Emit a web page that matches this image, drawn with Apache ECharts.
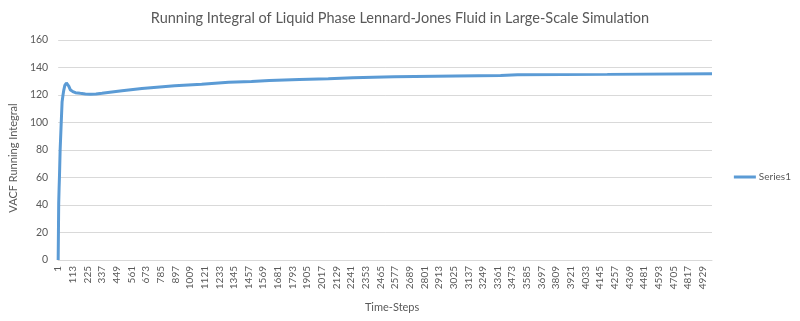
<!DOCTYPE html>
<html><head><meta charset="utf-8">
<script src="https://cdn.jsdelivr.net/npm/echarts@6/dist/echarts.min.js"></script>
<style>html,body{margin:0;padding:0;background:#fff}#c{width:800px;height:321px}</style>
</head><body><div id="c"></div>
<script>
const chartTitle = 'Running Integral of Liquid Phase Lennard-Jones Fluid in Large-Scale Simulation';
const xAxisTitle = 'Time-Steps';
const yAxisTitle = 'VACF Running Integral';
const seriesName = 'Series1';
const timeSteps = [1, 3, 5, 8, 11, 16, 24, 31, 38, 44, 52, 58, 64, 72, 82, 95, 113, 133, 170, 209, 247, 290, 336, 412, 489, 641, 892, 1098, 1304, 1479, 1616, 1845, 2066, 2256, 2569, 3041, 3384, 3513, 4200, 5000];
const integralValues = [0, 20, 41, 52, 61, 80, 99, 115, 120, 123.6, 127, 128.3, 128.7, 128.3, 126.5, 123.6, 122.5, 121.7, 121.2, 120.8, 120.5, 120.8, 121.3, 122.2, 123.1, 124.8, 126.8, 127.9, 129.2, 129.9, 130.6, 131.3, 131.9, 132.6, 133.2, 133.9, 134.2, 134.8, 135.0, 135.4];
const xMin = 1, xMax = 5000, xStep = 112;
const yMin = 0, yMax = 160, yStep = 20;

const FONT = 'Lato';
const chart = echarts.init(document.getElementById('c'), null, {renderer: 'canvas'});
chart.setOption({
  animation: false,
  backgroundColor: '#ffffff',
  textStyle: {fontFamily: FONT},
  title: {
    text: chartTitle, left: 'center', top: 6,
    textStyle: {fontFamily: FONT, fontSize: 14.5, fontWeight: 'normal', color: '#595959'}
  },
  legend: {
    right: 4, top: 167, orient: 'vertical',
    itemWidth: 22, itemHeight: 3, itemGap: 4,
    icon: 'rect',
    data: [seriesName],
    textStyle: {fontFamily: FONT, fontSize: 10, color: '#595959', padding: [0,0,0,-2]}
  },
  grid: {left: 55, right: 88, top: 40, bottom: 61, containLabel: false},
  xAxis: {
    type: 'value', min: xMin, max: xMax, interval: xStep,
    name: xAxisTitle, nameLocation: 'middle', nameGap: 42,
    nameTextStyle: {fontFamily: FONT, fontSize: 11, color: '#595959', padding: [0, 0, 0, 14]},
    axisLine: {show: true, lineStyle: {color: '#d9d9d9', width: 1}},
    axisTick: {show: false},
    splitLine: {show: false},
    axisLabel: {rotate: 90, fontSize: 10, color: '#595959', margin: 6, showMaxLabel: false, fontFamily: FONT,
      formatter: v => String(v)}
  },
  yAxis: {
    type: 'value', min: yMin, max: yMax, interval: yStep,
    name: yAxisTitle, nameLocation: 'middle', nameGap: 33, nameRotate: 90,
    nameTextStyle: {fontFamily: FONT, fontSize: 11, color: '#595959', padding: [0, 16, 0, 0]},
    axisLine: {show: false}, axisTick: {show: false},
    splitLine: {lineStyle: {color: '#d9d9d9', width: 1}},
    axisLabel: {fontSize: 10.5, color: '#595959', margin: 10, fontFamily: FONT}
  },
  series: [{
    name: seriesName, type: 'line', showSymbol: false, symbol: 'none',
    data: timeSteps.map((t, i) => [t, integralValues[i]]),
    lineStyle: {color: '#5b9bd5', width: 3},
    itemStyle: {color: '#5b9bd5'}
  }]
});
</script></body></html>
